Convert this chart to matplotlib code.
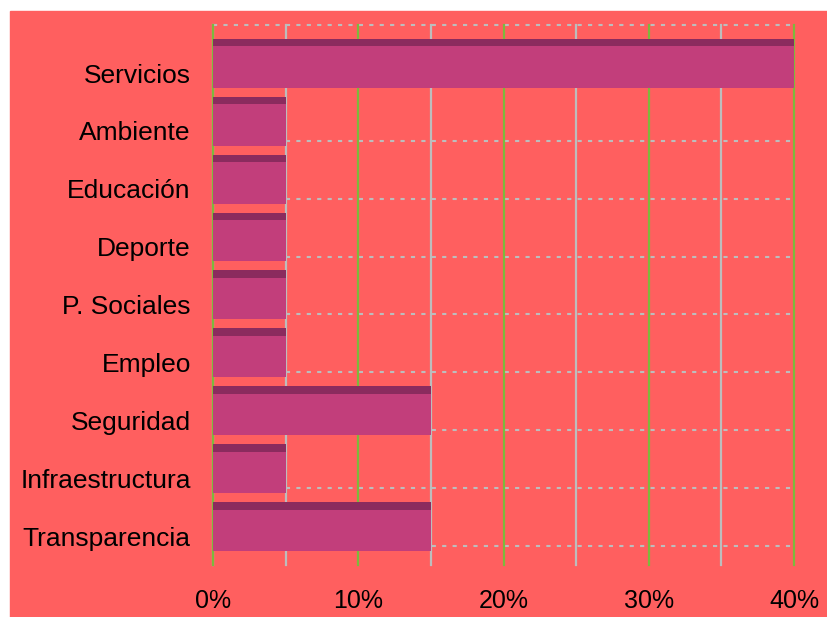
import numpy as np
import matplotlib.pyplot as plt
import matplotlib.patches as patches

# datos
categorias = ["Servicios", "Ambiente", "Educación", "Deporte", "P. Sociales",
              "Empleo", "Seguridad", "Infraestructura", "Transparencia"]
porcentajes = [40, 5, 5, 5, 5, 5, 15, 5, 15]
ticks_mayores = [0, 10, 20, 30, 40]
ticks_menores = [5, 15, 25, 35]
etiquetas_x = ["0%", "10%", "20%", "30%", "40%"]

plt.rcParams['font.family'] = ['Liberation Sans', 'DejaVu Sans']

W, H = 827, 617
fig = plt.figure(figsize=(W / 100, H / 100), dpi=100)
fig.patch.set_facecolor('white')
# fondo rojo (deja un borde blanco arriba e izquierda)
fondo = patches.Rectangle((10 / W, 0), 1, (H - 11) / H,
                          transform=fig.transFigure,
                          color='#FF5F5F', zorder=-10)
fig.add_artist(fondo)

ax = fig.add_axes([213 / W, 52 / H, (794 - 213) / W, (592 - 52) / H])
ax.set_facecolor('none')
ax.set_zorder(5)

n = len(categorias)
pos = np.arange(n)

# rejilla
for x in [0] + ticks_menores:
    ax.axvline(x, color='#BDBDBD', lw=1.6, zorder=1, clip_on=False)
for x in ticks_mayores:
    ax.axvline(x, color='#7DB93C', lw=1.6, zorder=1.1, clip_on=False)
ax.hlines(np.arange(-0.5, n), 0, 40, colors='#BDBDBD', lw=1.5,
          linestyles=(0, (2, 3)), zorder=1, clip_on=False)

# barras
ax.barh(pos - 0.26, porcentajes, height=0.845, align='edge',
        color='#C23E7B', edgecolor='none', zorder=2)
ax.barh(pos - 0.26, porcentajes, height=0.13, align='edge',
        color='#8B2B5E', edgecolor='none', zorder=3)

ax.set_xlim(0, 40)
ax.set_ylim(n - 0.5 + 19 / 58, -0.5)

ax.set_xticks(ticks_mayores)
ax.set_xticklabels(etiquetas_x, fontsize=18)
ax.set_yticks(pos + 0.33)
ax.set_yticklabels(categorias, fontsize=19)
ax.tick_params(axis='x', length=0, pad=17)
ax.tick_params(axis='y', length=0, pad=16)

for s in ax.spines.values():
    s.set_visible(False)

fig.savefig('out.png', dpi=100, facecolor=fig.get_facecolor())
